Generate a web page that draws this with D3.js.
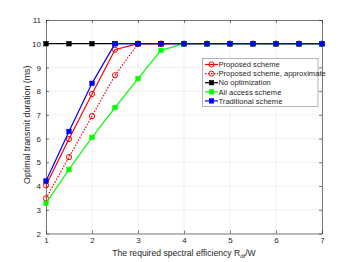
<!DOCTYPE html>
<html><head><meta charset="utf-8">
<script src="https://cdn.jsdelivr.net/npm/d3@7"></script>
<style>body{margin:0;background:#fff}svg{display:block}</style>
</head><body><svg id="c" width="356" height="262"></svg>
<script>
const xValues = [1,1.5,2,2.5,3,3.5,4,4.5,5,5.5,6,6.5,7];
const proposed = [4.03,5.98,7.88,9.75,10,10,10,10,10,10,10,10,10];
const approximate = [3.48,5.22,6.95,8.67,10,10,10,10,10,10,10,10,10];
const noOpt = [10,10,10,10,10,10,10,10,10,10,10,10,10];
const allAccess = [3.27,4.7,6.05,7.31,8.53,9.72,10,10,10,10,10,10,10];
const traditional = [4.21,6.3,8.33,10,10,10,10,10,10,10,10,10,10];
const xTicks = [1,2,3,4,5,6,7];
const yTicks = [2,3,4,5,6,7,8,9,10,11];
const seriesNames = ["Proposed scheme","Proposed scheme, approximate","No optimization","All access scheme","Traditional scheme"];

const svg = d3.select("#c");
const L=46,R=322,T=20,B=233.5;
const x = d3.scaleLinear().domain([1,7]).range([L,R]);
const y = d3.scaleLinear().domain([2,11]).range([B,T]);
const font = "Liberation Sans, Arial, sans-serif";

// grid
svg.append("g").selectAll("line").data(xTicks).join("line")
  .attr("x1",d=>x(d)).attr("x2",d=>x(d)).attr("y1",T).attr("y2",B)
  .attr("stroke","#e6e6e6").attr("stroke-width",0.6);
svg.append("g").selectAll("line").data(yTicks).join("line")
  .attr("y1",d=>y(d)).attr("y2",d=>y(d)).attr("x1",L).attr("x2",R)
  .attr("stroke","#e6e6e6").attr("stroke-width",0.6);

// axes
const fmt = d3.format("d");
const xa = svg.append("g").attr("transform",`translate(0,${B})`)
  .call(d3.axisBottom(x).tickValues(xTicks).tickFormat(fmt).tickSizeInner(-3).tickSizeOuter(0).tickPadding(4));
const xt = svg.append("g").attr("transform",`translate(0,${T})`)
  .call(d3.axisTop(x).tickValues(xTicks).tickSizeInner(-3).tickSizeOuter(0).tickFormat(""));
const ya = svg.append("g").attr("transform",`translate(${L},0)`)
  .call(d3.axisLeft(y).tickValues(yTicks).tickFormat(fmt).tickSizeInner(-3).tickSizeOuter(0).tickPadding(5));
const yr = svg.append("g").attr("transform",`translate(${R},0)`)
  .call(d3.axisRight(y).tickValues(yTicks).tickSizeInner(-3).tickSizeOuter(0).tickFormat(""));
[xa,xt,ya,yr].forEach(g=>{
  g.selectAll("path,line").attr("stroke","#262626").attr("stroke-width",0.6);
  g.selectAll("text").attr("fill","#262626").attr("font-size",8).attr("font-family",font);
});

const series = [
  {name:seriesNames[0], vals:proposed, color:"#ff0000", dash:null, marker:"circle"},
  {name:seriesNames[1], vals:approximate, color:"#ff0000", dash:"1.5,1.5", marker:"circle"},
  {name:seriesNames[2], vals:noOpt, color:"#000000", dash:null, marker:"square"},
  {name:seriesNames[3], vals:allAccess, color:"#00ff00", dash:null, marker:"square"},
  {name:seriesNames[4], vals:traditional, color:"#0000ff", dash:null, marker:"square"}
];
const line = d3.line().x(d=>x(d[0])).y(d=>y(d[1]));
function drawMarker(g, cx, cy, s){
  if(s.marker==="circle"){
    g.append("circle").attr("cx",cx).attr("cy",cy).attr("r",2.6)
      .attr("fill","none").attr("stroke",s.color).attr("stroke-width",1);
  } else {
    g.append("rect").attr("x",cx-2.3).attr("y",cy-2.3).attr("width",4.6).attr("height",4.6)
      .attr("fill",s.color).attr("stroke",s.color).attr("stroke-width",0.5);
  }
}
const plot = svg.append("g");
series.forEach(s=>{
  const pts = xValues.map((v,i)=>[v,s.vals[i]]);
  plot.append("path").attr("d",line(pts)).attr("fill","none")
    .attr("stroke",s.color).attr("stroke-width",1.2)
    .attr("stroke-dasharray",s.dash);
  const mg = plot.append("g");
  pts.forEach(p=>drawMarker(mg,x(p[0]),y(p[1]),s));
});

// legend
const lg = svg.append("g");
lg.append("rect").attr("x",202.5).attr("y",58.5).attr("width",115.5).attr("height",48)
  .attr("fill","#fff").attr("stroke","#808080").attr("stroke-width",0.6);
series.forEach((s,i)=>{
  const yy = 64.5 + i*9.1;
  lg.append("line").attr("x1",205).attr("x2",218).attr("y1",yy).attr("y2",yy)
    .attr("stroke",s.color).attr("stroke-width",1.2).attr("stroke-dasharray",s.dash);
  drawMarker(lg,211.5,yy,s);
  lg.append("text").attr("x",218.5).attr("y",yy+2.7).text(s.name)
    .attr("font-size",7.6).attr("font-family",font).attr("fill","#262626");
});

// axis labels
const xl = svg.append("text").attr("x",184).attr("y",255.5).attr("text-anchor","middle")
  .attr("font-size",8.6).attr("font-family",font).attr("fill","#262626");
xl.append("tspan").text("The required spectral efficiency R");
xl.append("tspan").attr("font-size",6).attr("dy",2.5).text("df");
xl.append("tspan").attr("dy",-2.5).text("/W");
svg.append("text").attr("transform",`translate(30,${(T+B)/2 - 2}) rotate(-90)`)
  .attr("text-anchor","middle").attr("font-size",8.8).attr("font-family",font).attr("fill","#262626")
  .text("Optimal transmit duration (ms)");
</script></body></html>
